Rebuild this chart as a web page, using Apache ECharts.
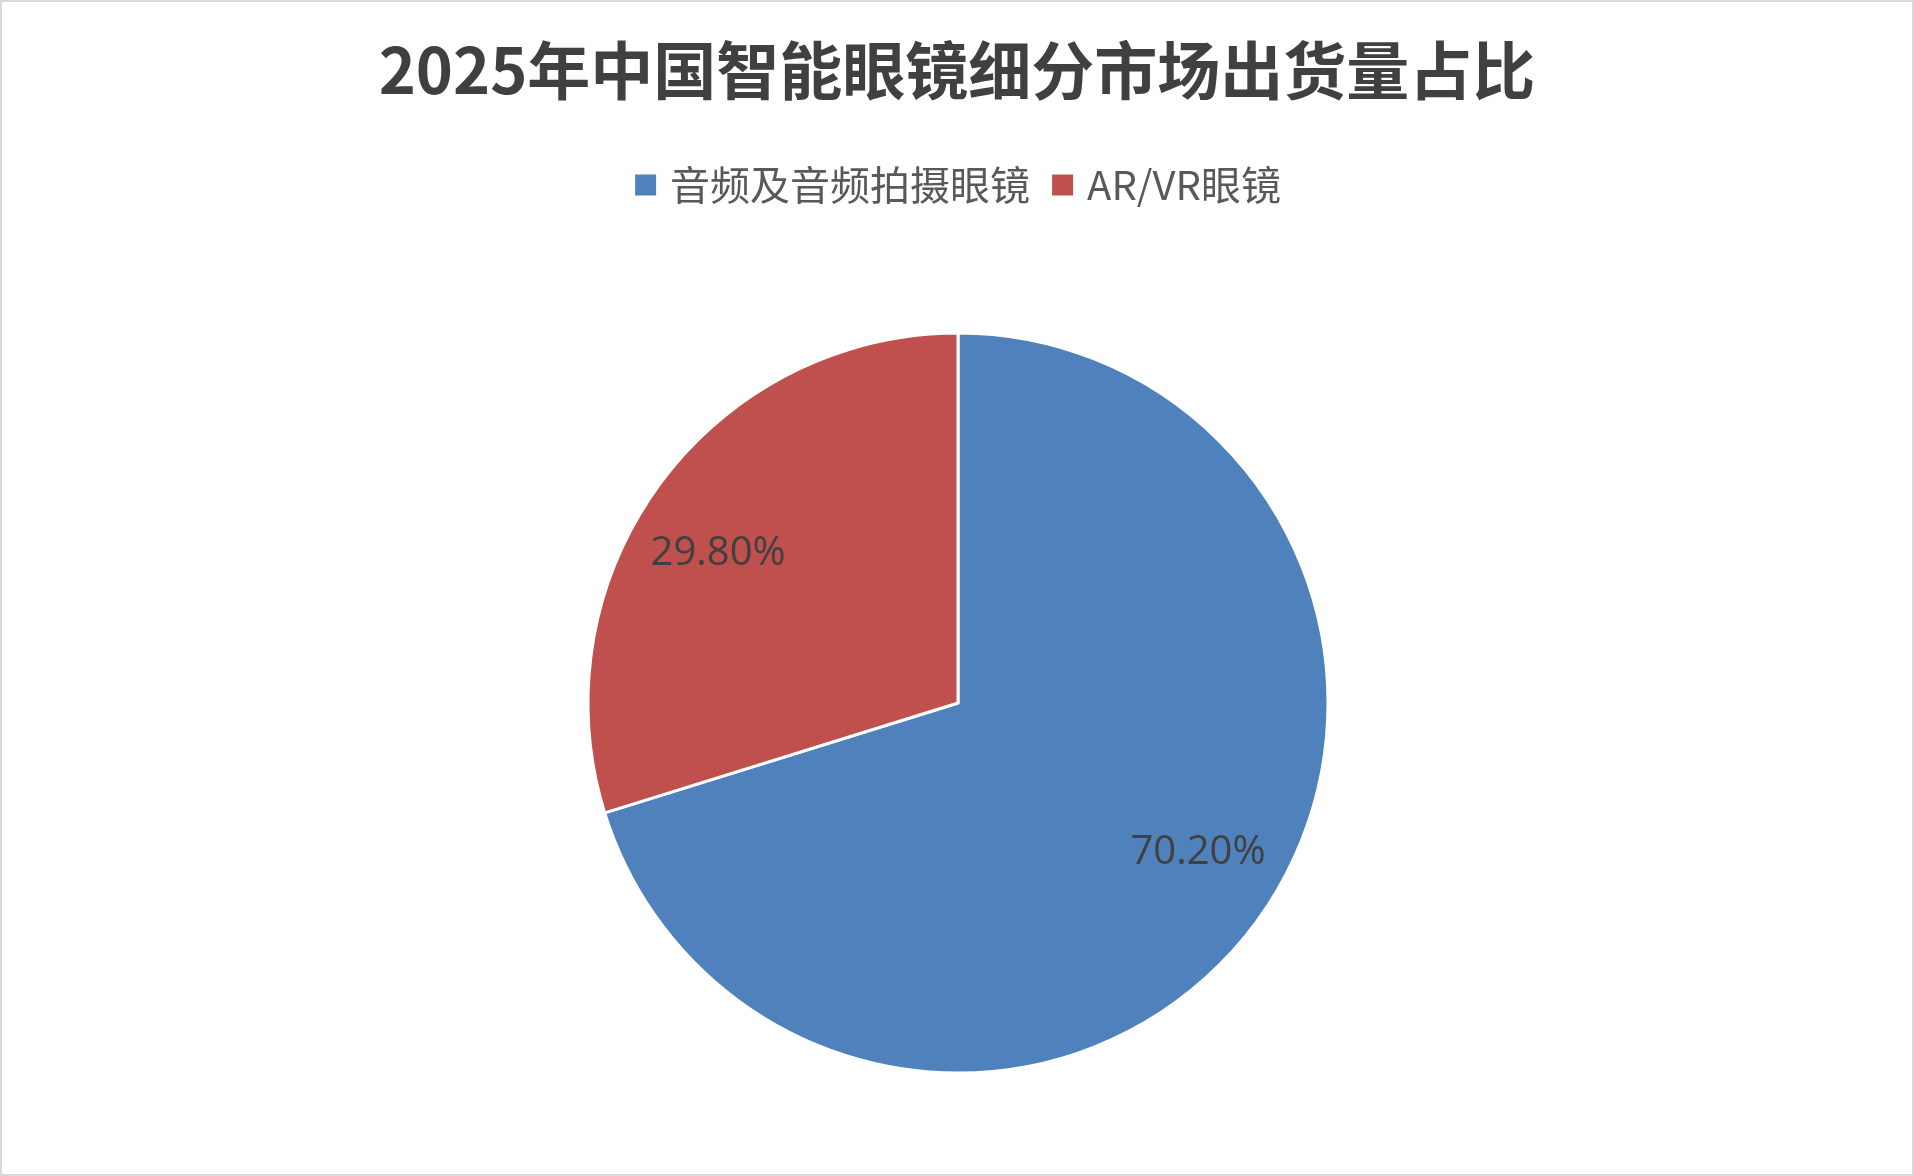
<!DOCTYPE html>
<html>
<head>
<meta charset="utf-8">
<script src="https://cdn.jsdelivr.net/npm/echarts@6/dist/echarts.min.js"></script>
<style>
html,body{margin:0;padding:0;background:#fff;}
#chart{width:1914px;height:1176px;box-sizing:border-box;border:2px solid #d9d9d9;}
</style>
</head>
<body>
<div id="chart"></div>
<script>
const titleText = '2025年中国智能眼镜细分市场出货量占比';
const categories = ['音频及音频拍摄眼镜', 'AR/VR眼镜'];
const shares = [70.2, 29.8];
const colors = ['#4F81BD', '#C0504D'];

const chart = echarts.init(document.getElementById('chart'));
const pieData = categories.map((name, i) => ({ name: name, value: shares[i], itemStyle: { color: colors[i] } }));
const R = 370;
const center = [956, 701];

chart.setOption({
  backgroundColor: '#ffffff',
  animation: false,
  title: {
    text: titleText,
    left: 'center',
    top: 32,
    textStyle: { fontFamily: 'Noto Sans CJK SC', fontWeight: 'bold', fontSize: 63, color: '#404040' }
  },
  legend: {
    top: 158,
    left: 'center',
    icon: 'rect',
    itemWidth: 23,
    itemHeight: 23,
    itemGap: 20,
    data: categories.map((name, i) => ({ name: name, itemStyle: { color: colors[i] } })),
    textStyle: { fontFamily: 'Noto Sans CJK SC', fontSize: 40, color: '#595959', padding: [0, 0, 0, 8] }
  },
  series: [
    {
      type: 'pie',
      center: center,
      radius: [0, R],
      startAngle: 90,
      clockwise: true,
      data: pieData,
      label: { show: false },
      labelLine: { show: false },
      itemStyle: { borderColor: '#ffffff', borderWidth: 3 },
      emphasis: { disabled: true }
    },
    {
      type: 'pie',
      center: center,
      radius: [Math.round(R * 0.51), R],
      startAngle: 94.5,
      clockwise: true,
      silent: true,
      data: pieData.map(d => ({ name: d.name, value: d.value, itemStyle: { color: 'rgba(0,0,0,0)' } })),
      label: {
        show: true,
        position: 'inside',
        formatter: p => p.value.toFixed(2) + '%',
        fontFamily: 'Open Sans',
        fontSize: 40,
        color: '#404040'
      },
      labelLine: { show: false },
      itemStyle: { borderWidth: 0 },
      emphasis: { disabled: true }
    }
  ]
});
</script>
</body>
</html>
